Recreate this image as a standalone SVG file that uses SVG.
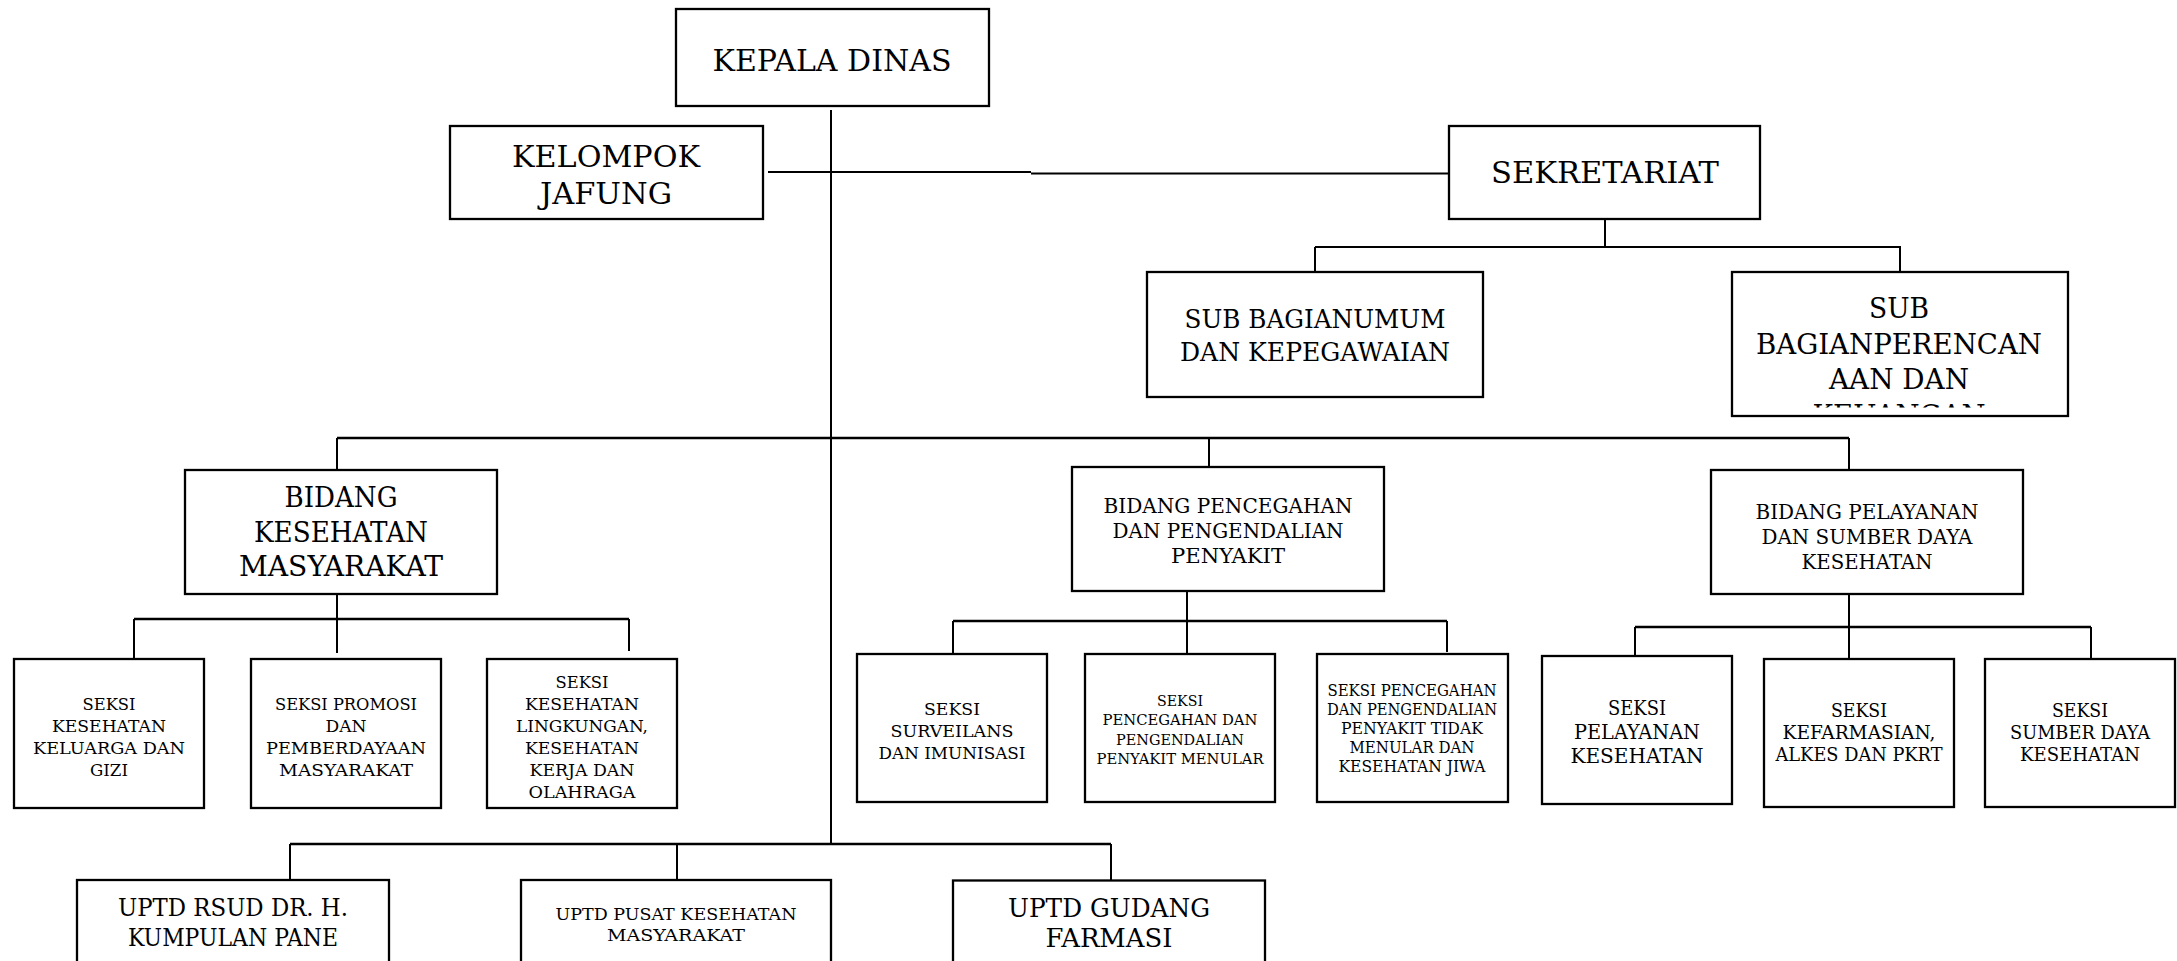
<svg xmlns="http://www.w3.org/2000/svg" width="2177" height="961" viewBox="0 0 2177 961">
  <style>
    .box { fill: #ffffff; stroke: #000000; stroke-width: 2.3; }
    .ln { fill: none; stroke: #000000; stroke-width: 2; }
    .bar { fill: none; stroke: #000000; stroke-width: 2.6; }
    text { font-family: "DejaVu Serif", "Liberation Serif", serif; text-anchor: middle; fill: #000000; }
    .f33 { font-size: 30px; }
    .f31 { font-size: 28px; }
    .f29 { font-size: 28px; }
    .f28 { font-size: 26px; }
    .f27 { font-size: 25.5px; }
    .f25 { font-size: 23.5px; }
    .f22 { font-size: 21px; }
    .f21 { font-size: 19.5px; }
    .f20 { font-size: 18.5px; }
    .f19 { font-size: 17.5px; }
    .f17 { font-size: 16px; }
    .f16 { font-size: 15.5px; }
  </style>
  <defs>
    <clipPath id="clip-perencanaan">
      <rect x="1732" y="272" width="336" height="135.5"/>
    </clipPath>
  </defs>
  <rect x="0" y="0" width="2177" height="961" fill="#ffffff"/>

  <!-- connectors -->
  <g id="connectors">
    <!-- trunk from the head of office -->
    <line class="ln" x1="831" y1="110" x2="831" y2="845"/>
    <!-- staff line: functional group to secretariat -->
    <line class="ln" x1="768" y1="172" x2="1031" y2="172"/>
    <line class="ln" x1="1031" y1="173.5" x2="1448" y2="173.5"/>
    <!-- secretariat to its two sub-sections -->
    <line class="ln" x1="1605" y1="219" x2="1605" y2="247"/>
    <line class="ln" x1="1315" y1="247" x2="1901" y2="247"/>
    <line class="ln" x1="1315" y1="247" x2="1315" y2="272"/>
    <line class="ln" x1="1900" y1="247" x2="1900" y2="272"/>
    <!-- main bar to the three divisions -->
    <line class="bar" x1="337" y1="438" x2="1849" y2="438"/>
    <line class="ln" x1="337" y1="438" x2="337" y2="470"/>
    <line class="ln" x1="1209" y1="438" x2="1209" y2="467"/>
    <line class="ln" x1="1849" y1="438" x2="1849" y2="470"/>
    <!-- public health division sections -->
    <line class="ln" x1="337" y1="594" x2="337" y2="653"/>
    <line class="bar" x1="134" y1="619" x2="629" y2="619"/>
    <line class="ln" x1="134" y1="619" x2="134" y2="659"/>
    <line class="ln" x1="629" y1="619" x2="629" y2="651"/>
    <!-- disease control division sections -->
    <line class="ln" x1="1187" y1="591" x2="1187" y2="658"/>
    <line class="bar" x1="953" y1="621" x2="1447" y2="621"/>
    <line class="ln" x1="953" y1="621" x2="953" y2="654"/>
    <line class="ln" x1="1447" y1="621" x2="1447" y2="652"/>
    <!-- services division sections -->
    <line class="ln" x1="1849" y1="594" x2="1849" y2="659"/>
    <line class="bar" x1="1635" y1="627" x2="2091" y2="627"/>
    <line class="ln" x1="1635" y1="627" x2="1635" y2="656"/>
    <line class="ln" x1="2091" y1="627" x2="2091" y2="659"/>
    <!-- technical units -->
    <line class="bar" x1="290" y1="844" x2="1111" y2="844"/>
    <line class="ln" x1="290" y1="844" x2="290" y2="880"/>
    <line class="ln" x1="677" y1="844" x2="677" y2="880"/>
    <line class="ln" x1="1111" y1="844" x2="1111" y2="880"/>
  </g>

  <g id="kepala-dinas">
    <rect class="box" x="676" y="9" width="313" height="97"/>
    <text class="f33" x="832" y="71" textLength="239" lengthAdjust="spacingAndGlyphs">KEPALA DINAS</text>
  </g>

  <g id="kelompok-jafung">
    <rect class="box" x="450" y="126" width="313" height="93"/>
    <text class="f33" x="606" y="167" textLength="188" lengthAdjust="spacingAndGlyphs">KELOMPOK</text>
    <text class="f33" x="606" y="204" textLength="132" lengthAdjust="spacingAndGlyphs">JAFUNG</text>
  </g>

  <g id="sekretariat">
    <rect class="box" x="1449" y="126" width="311" height="93"/>
    <text class="f33" x="1605" y="183" textLength="228" lengthAdjust="spacingAndGlyphs">SEKRETARIAT</text>
  </g>

  <g id="subbag-umum">
    <rect class="box" x="1147" y="272" width="336" height="125"/>
    <text class="f27" x="1315" y="328" textLength="261" lengthAdjust="spacingAndGlyphs">SUB BAGIANUMUM</text>
    <text class="f27" x="1315" y="361" textLength="270" lengthAdjust="spacingAndGlyphs">DAN KEPEGAWAIAN</text>
  </g>

  <g id="subbag-perencanaan">
    <rect class="box" x="1732" y="272" width="336" height="144"/>
    <g clip-path="url(#clip-perencanaan)">
      <text class="f31" x="1899" y="318" textLength="60" lengthAdjust="spacingAndGlyphs">SUB</text>
      <text class="f31" x="1899" y="353.5" textLength="286" lengthAdjust="spacingAndGlyphs">BAGIANPERENCAN</text>
      <text class="f31" x="1899" y="389" textLength="140" lengthAdjust="spacingAndGlyphs">AAN DAN</text>
      <text class="f31" x="1899" y="424.5" textLength="173" lengthAdjust="spacingAndGlyphs">KEUANGAN</text>
    </g>
  </g>

  <g id="bidang-kesmas">
    <rect class="box" x="185" y="470" width="312" height="124"/>
    <text class="f29" x="341" y="507" textLength="113" lengthAdjust="spacingAndGlyphs">BIDANG</text>
    <text class="f29" x="341" y="541.5" textLength="174" lengthAdjust="spacingAndGlyphs">KESEHATAN</text>
    <text class="f29" x="341" y="576" textLength="204" lengthAdjust="spacingAndGlyphs">MASYARAKAT</text>
  </g>

  <g id="bidang-p2p">
    <rect class="box" x="1072" y="467" width="312" height="124"/>
    <text class="f22" x="1228" y="513" textLength="249" lengthAdjust="spacingAndGlyphs">BIDANG PENCEGAHAN</text>
    <text class="f22" x="1228" y="538" textLength="231" lengthAdjust="spacingAndGlyphs">DAN PENGENDALIAN</text>
    <text class="f22" x="1228" y="563" textLength="114" lengthAdjust="spacingAndGlyphs">PENYAKIT</text>
  </g>

  <g id="bidang-pelayanan">
    <rect class="box" x="1711" y="470" width="312" height="124"/>
    <text class="f22" x="1867" y="519" textLength="223" lengthAdjust="spacingAndGlyphs">BIDANG PELAYANAN</text>
    <text class="f22" x="1867" y="544" textLength="211" lengthAdjust="spacingAndGlyphs">DAN SUMBER DAYA</text>
    <text class="f22" x="1867" y="569" textLength="131" lengthAdjust="spacingAndGlyphs">KESEHATAN</text>
  </g>

  <g id="seksi-kesga-gizi">
    <rect class="box" x="14" y="659" width="190" height="149"/>
    <text class="f19" x="109" y="710" textLength="53" lengthAdjust="spacingAndGlyphs">SEKSI</text>
    <text class="f19" x="109" y="732" textLength="114" lengthAdjust="spacingAndGlyphs">KESEHATAN</text>
    <text class="f19" x="109" y="754" textLength="152" lengthAdjust="spacingAndGlyphs">KELUARGA DAN</text>
    <text class="f19" x="109" y="776" textLength="38" lengthAdjust="spacingAndGlyphs">GIZI</text>
  </g>

  <g id="seksi-promkes">
    <rect class="box" x="251" y="659" width="190" height="149"/>
    <text class="f19" x="346" y="710" textLength="142" lengthAdjust="spacingAndGlyphs">SEKSI PROMOSI</text>
    <text class="f19" x="346" y="732" textLength="41" lengthAdjust="spacingAndGlyphs">DAN</text>
    <text class="f19" x="346" y="754" textLength="160" lengthAdjust="spacingAndGlyphs">PEMBERDAYAAN</text>
    <text class="f19" x="346" y="776" textLength="134" lengthAdjust="spacingAndGlyphs">MASYARAKAT</text>
  </g>

  <g id="seksi-kesling">
    <rect class="box" x="487" y="659" width="190" height="149"/>
    <text class="f19" x="582" y="688" textLength="53" lengthAdjust="spacingAndGlyphs">SEKSI</text>
    <text class="f19" x="582" y="710" textLength="114" lengthAdjust="spacingAndGlyphs">KESEHATAN</text>
    <text class="f19" x="582" y="732" textLength="132" lengthAdjust="spacingAndGlyphs">LINGKUNGAN,</text>
    <text class="f19" x="582" y="754" textLength="114" lengthAdjust="spacingAndGlyphs">KESEHATAN</text>
    <text class="f19" x="582" y="776" textLength="105" lengthAdjust="spacingAndGlyphs">KERJA DAN</text>
    <text class="f19" x="582" y="798" textLength="107" lengthAdjust="spacingAndGlyphs">OLAHRAGA</text>
  </g>

  <g id="seksi-surveilans">
    <rect class="box" x="857" y="654" width="190" height="148"/>
    <text class="f19" x="952" y="715" textLength="56" lengthAdjust="spacingAndGlyphs">SEKSI</text>
    <text class="f19" x="952" y="737" textLength="123" lengthAdjust="spacingAndGlyphs">SURVEILANS</text>
    <text class="f19" x="952" y="759" textLength="147" lengthAdjust="spacingAndGlyphs">DAN IMUNISASI</text>
  </g>

  <g id="seksi-p2pm">
    <rect class="box" x="1085" y="654" width="190" height="148"/>
    <text class="f16" x="1180" y="706" textLength="46" lengthAdjust="spacingAndGlyphs">SEKSI</text>
    <text class="f16" x="1180" y="725" textLength="155" lengthAdjust="spacingAndGlyphs">PENCEGAHAN DAN</text>
    <text class="f16" x="1180" y="744.5" textLength="128" lengthAdjust="spacingAndGlyphs">PENGENDALIAN</text>
    <text class="f16" x="1180" y="764" textLength="167" lengthAdjust="spacingAndGlyphs">PENYAKIT MENULAR</text>
  </g>

  <g id="seksi-p2ptm">
    <rect class="box" x="1317" y="654" width="191" height="148"/>
    <text class="f17" x="1412" y="696" textLength="169" lengthAdjust="spacingAndGlyphs">SEKSI PENCEGAHAN</text>
    <text class="f17" x="1412" y="715" textLength="170" lengthAdjust="spacingAndGlyphs">DAN PENGENDALIAN</text>
    <text class="f17" x="1412" y="734" textLength="142" lengthAdjust="spacingAndGlyphs">PENYAKIT TIDAK</text>
    <text class="f17" x="1412" y="753" textLength="125" lengthAdjust="spacingAndGlyphs">MENULAR DAN</text>
    <text class="f17" x="1412" y="772" textLength="147" lengthAdjust="spacingAndGlyphs">KESEHATAN JIWA</text>
  </g>

  <g id="seksi-yankes">
    <rect class="box" x="1542" y="656" width="190" height="148"/>
    <text class="f21" x="1637" y="715" textLength="58" lengthAdjust="spacingAndGlyphs">SEKSI</text>
    <text class="f21" x="1637" y="739" textLength="126" lengthAdjust="spacingAndGlyphs">PELAYANAN</text>
    <text class="f21" x="1637" y="763" textLength="133" lengthAdjust="spacingAndGlyphs">KESEHATAN</text>
  </g>

  <g id="seksi-kefarmasian">
    <rect class="box" x="1764" y="659" width="190" height="148"/>
    <text class="f20" x="1859" y="717" textLength="56" lengthAdjust="spacingAndGlyphs">SEKSI</text>
    <text class="f20" x="1859" y="739" textLength="153" lengthAdjust="spacingAndGlyphs">KEFARMASIAN,</text>
    <text class="f20" x="1859" y="761" textLength="167" lengthAdjust="spacingAndGlyphs">ALKES DAN PKRT</text>
  </g>

  <g id="seksi-sdk">
    <rect class="box" x="1985" y="659" width="190" height="148"/>
    <text class="f20" x="2080" y="717" textLength="56" lengthAdjust="spacingAndGlyphs">SEKSI</text>
    <text class="f20" x="2080" y="739" textLength="140" lengthAdjust="spacingAndGlyphs">SUMBER DAYA</text>
    <text class="f20" x="2080" y="761" textLength="120" lengthAdjust="spacingAndGlyphs">KESEHATAN</text>
  </g>

  <g id="uptd-rsud">
    <rect class="box" x="77" y="880" width="312" height="110"/>
    <text class="f25" x="233" y="916" textLength="230" lengthAdjust="spacingAndGlyphs">UPTD RSUD DR. H.</text>
    <text class="f25" x="233" y="946" textLength="210" lengthAdjust="spacingAndGlyphs">KUMPULAN PANE</text>
  </g>

  <g id="uptd-puskesmas">
    <rect class="box" x="521" y="880" width="310" height="110"/>
    <text class="f19" x="676" y="920" textLength="241" lengthAdjust="spacingAndGlyphs">UPTD PUSAT KESEHATAN</text>
    <text class="f19" x="676" y="941" textLength="138" lengthAdjust="spacingAndGlyphs">MASYARAKAT</text>
  </g>

  <g id="uptd-gudang-farmasi">
    <rect class="box" x="953" y="880.5" width="312" height="110"/>
    <text class="f28" x="1109" y="917" textLength="202" lengthAdjust="spacingAndGlyphs">UPTD GUDANG</text>
    <text class="f28" x="1109" y="947" textLength="127" lengthAdjust="spacingAndGlyphs">FARMASI</text>
  </g>
</svg>
